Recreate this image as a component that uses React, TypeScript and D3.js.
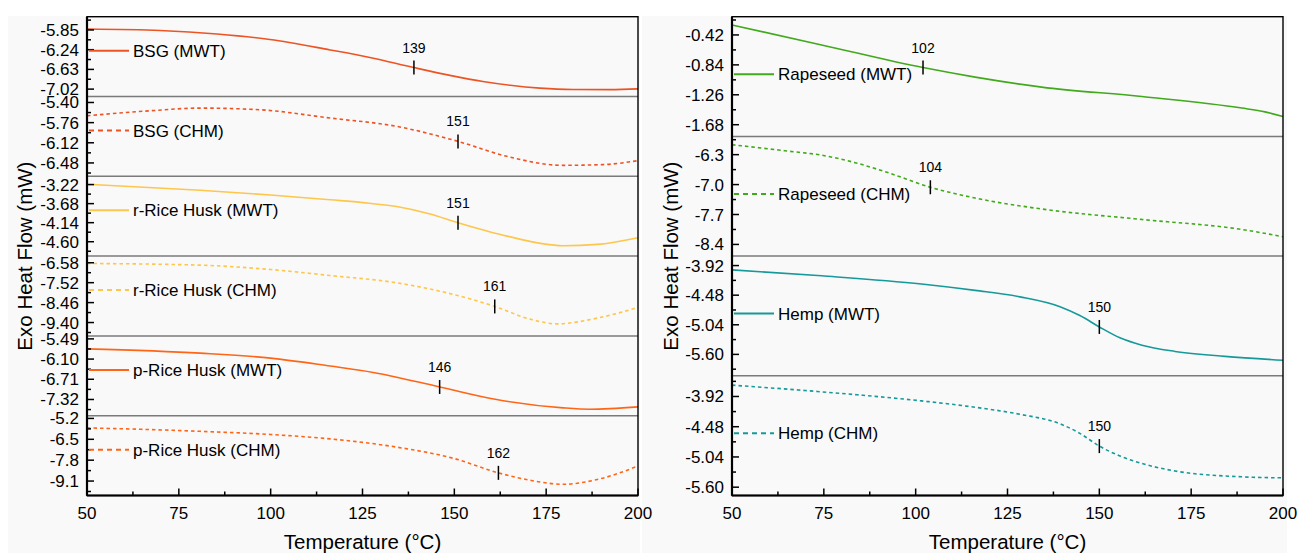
import * as d3 from "d3";

const W = 1299;
const H = 553;
const FONT = "'Liberation Sans', Arial, Helvetica, sans-serif";

// x axis
const tempTicks = [50, 75, 100, 125, 150, 175, 200];
const tempMinor = [62.5, 87.5, 112.5, 137.5, 162.5, 187.5];

// colours
const cBsg = "#ec5424";
const cRice = "#fdc64c";
const cPRice = "#ff6516";
const cRape = "#41a91c";
const cHemp = "#16999a";

// curves, [temperature °C, heat flow mW]
const bsgMwt: [number, number][] = [
  [50, -5.831], [69.9, -5.86], [85.4, -5.929], [99.8, -6.038], [116.2, -6.245],
  [127, -6.393], [139, -6.594], [148.8, -6.748], [157.8, -6.87], [165.2, -6.945],
  [173.3, -7.001], [182.3, -7.028], [192.4, -7.03], [200, -7.015],
];
const bsgChm: [number, number][] = [
  [50, -5.637], [67.2, -5.548], [80.8, -5.5], [97.1, -5.53], [116.2, -5.678],
  [134.4, -5.828], [151, -6.095], [164.3, -6.362], [179.6, -6.523], [190.5, -6.51],
  [200, -6.439],
];
const rRiceMwt: [number, number][] = [
  [50, -3.213], [80.8, -3.357], [100, -3.47], [116.2, -3.588], [125.2, -3.655],
  [134.3, -3.75], [143.4, -3.93], [151, -4.142], [164.3, -4.465], [179.6, -4.696],
  [188.9, -4.665], [200, -4.503],
];
const rRiceChm: [number, number][] = [
  [50, -6.614], [80.8, -6.694], [100, -6.9], [116.2, -7.183], [134.4, -7.53],
  [148, -8.0], [161, -8.64], [170.6, -9.239], [177.9, -9.462], [188.9, -9.191],
  [200, -8.688],
];
const pRiceMwt: [number, number][] = [
  [50, -5.791], [80.8, -5.92], [100, -6.07], [116.2, -6.311], [127.9, -6.503],
  [146, -6.942], [161.5, -7.323], [179.6, -7.573], [186.9, -7.615], [200, -7.543],
];
const pRiceChm: [number, number][] = [
  [50, -5.787], [80.8, -6.002], [100, -6.2], [116.2, -6.475], [134.3, -6.986],
  [150, -7.7], [162, -8.589], [170.6, -9.049], [179.6, -9.302], [188.9, -9.005],
  [200, -8.166],
];
const rapeMwt: [number, number][] = [
  [50, -0.28], [74.4, -0.56], [102, -0.878], [116.2, -1.012], [134.3, -1.152],
  [161.6, -1.284], [188.8, -1.446], [195.1, -1.5], [200, -1.564],
];
const rapeChm: [number, number][] = [
  [50, -6.067], [65.3, -6.218], [74.4, -6.312], [83.5, -6.487], [92.4, -6.72],
  [104, -7.063], [116.2, -7.315], [134.3, -7.571], [161.6, -7.816], [188.8, -8.05],
  [200, -8.22],
];
const hempMwt: [number, number][] = [
  [50, -4.002], [74.4, -4.114], [101.6, -4.269], [116.2, -4.39], [128.4, -4.512],
  [139.3, -4.698], [144.7, -4.866], [150, -5.081], [155.6, -5.287], [161.6, -5.427],
  [170.6, -5.544], [184.2, -5.638], [200, -5.712],
];
const hempChm: [number, number][] = [
  [50, -3.71], [74.4, -3.834], [101.6, -4.002], [116.2, -4.12], [128.4, -4.25],
  [139.3, -4.426], [144.7, -4.603], [150, -4.839], [155.6, -5.021], [161.6, -5.161],
  [170.6, -5.3], [188.8, -5.408], [200, -5.427],
];

// y tick labels per stacked panel
const bsgMwtTicks = ["-5.85", "-6.24", "-6.63", "-7.02"];
const bsgChmTicks = ["-5.40", "-5.76", "-6.12", "-6.48"];
const rRiceMwtTicks = ["-3.22", "-3.68", "-4.14", "-4.60"];
const rRiceChmTicks = ["-6.58", "-7.52", "-8.46", "-9.40"];
const pRiceMwtTicks = ["-5.49", "-6.10", "-6.71", "-7.32"];
const pRiceChmTicks = ["-5.2", "-6.5", "-7.8", "-9.1"];
const rapeMwtTicks = ["-0.42", "-0.84", "-1.26", "-1.68"];
const rapeChmTicks = ["-6.3", "-7.0", "-7.7", "-8.4"];
const hempMwtTicks = ["-3.92", "-4.48", "-5.04", "-5.60"];
const hempChmTicks = ["-3.92", "-4.48", "-5.04", "-5.60"];

type Series = {
  name: string;
  color: string;
  dashed: boolean;
  data: [number, number][];
  ticks: string[];
  range: [number, number];
  onset: number;
};

const leftSeries: Series[] = [
  { name: "BSG (MWT)", color: cBsg, dashed: false, data: bsgMwt, ticks: bsgMwtTicks, range: [-7.166, -5.588], onset: 139 },
  { name: "BSG (CHM)", color: cBsg, dashed: true, data: bsgChm, ticks: bsgChmTicks, range: [-6.719, -5.293], onset: 151 },
  { name: "r-Rice Husk (MWT)", color: cRice, dashed: false, data: rRiceMwt, ticks: rRiceMwtTicks, range: [-4.947, -3.02], onset: 151 },
  { name: "r-Rice Husk (CHM)", color: cRice, dashed: true, data: rRiceChm, ticks: rRiceChmTicks, range: [-10.03, -6.267], onset: 161 },
  { name: "p-Rice Husk (MWT)", color: cPRice, dashed: false, data: pRiceMwt, ticks: pRiceMwtTicks, range: [-7.81, -5.4], onset: 146 },
  { name: "p-Rice Husk (CHM)", color: cPRice, dashed: true, data: pRiceChm, ticks: pRiceChmTicks, range: [-10.0, -5.03], onset: 162 },
];

const rightSeries: Series[] = [
  { name: "Rapeseed (MWT)", color: cRape, dashed: false, data: rapeMwt, ticks: rapeMwtTicks, range: [-1.844, -0.164], onset: 102 },
  { name: "Rapeseed (CHM)", color: cRape, dashed: true, data: rapeChm, ticks: rapeChmTicks, range: [-8.673, -5.873], onset: 104 },
  { name: "Hemp (MWT)", color: cHemp, dashed: false, data: hempMwt, ticks: hempMwtTicks, range: [-6.005, -3.741], onset: 150 },
  { name: "Hemp (CHM)", color: cHemp, dashed: true, data: hempChm, ticks: hempChmTicks, range: [-5.754, -3.537], onset: 150 },
];

const top = 16.7;
const bottom = 495.5;

function valueAt(data: [number, number][], t: number) {
  for (let i = 1; i < data.length; i++) {
    const [t0, v0] = data[i - 1];
    const [t1, v1] = data[i];
    if (t >= t0 && t <= t1) return v0 + ((t - t0) / (t1 - t0)) * (v1 - v0);
  }
  return data[data.length - 1][1];
}

function Panel({ series, x0, x1, legendDy, titleX }: { series: Series[]; x0: number; x1: number; legendDy: number; titleX: number }) {
  const x = d3.scaleLinear().domain([50, 200]).range([x0, x1]);
  const band = d3.scaleBand<number>().domain(d3.range(series.length)).range([top, bottom]).padding(0);
  const bh = band.bandwidth();

  return (
    <g>
      {series.map((s, i) => {
        const pTop = band(i)!;
        const pBot = pTop + bh;
        const y = d3.scaleLinear().domain(s.range).range([pBot, pTop]);
        const line = d3
          .line<[number, number]>()
          .x((d) => x(d[0]))
          .y((d) => y(d[1]))
          .curve(d3.curveMonotoneX);
        const tv = s.ticks.map(Number);
        const step = tv[1] - tv[0];
        const minor: number[] = [];
        for (let k = -1; k < tv.length; k++) {
          const m = tv[0] + step * (k + 0.5);
          const py = y(m);
          if (py > pTop + 2 && py < pBot - 2) minor.push(m);
        }
        const ox = x(s.onset);
        const oy = y(valueAt(s.data, s.onset));
        const ly = pTop + legendDy;
        return (
          <g key={s.name}>
            {i > 0 && <line x1={x0} x2={x1} y1={pTop} y2={pTop} stroke="#7a7a7a" strokeWidth={1.5} />}
            <path
              d={line(s.data) || ""}
              fill="none"
              stroke={s.color}
              strokeWidth={1.6}
              strokeDasharray={s.dashed ? "3.5 3" : undefined}
            />
            {tv.map((v, k) => (
              <g key={k}>
                <line x1={x0} x2={x0 + 7} y1={y(v)} y2={y(v)} stroke="#000" strokeWidth={1.5} />
                <text x={x0 - 8} y={y(v) + 6} textAnchor="end" fontSize={17}>
                  {s.ticks[k]}
                </text>
              </g>
            ))}
            {minor.map((v, k) => (
              <line key={"m" + k} x1={x0} x2={x0 + 4} y1={y(v)} y2={y(v)} stroke="#000" strokeWidth={1.5} />
            ))}
            <line x1={ox} x2={ox} y1={oy - 7} y2={oy + 7} stroke="#000" strokeWidth={1.5} />
            <text x={ox} y={oy - 15} textAnchor="middle" fontSize={14}>
              {s.onset}
            </text>
            <line
              x1={x0 + 2}
              x2={x0 + 42}
              y1={ly}
              y2={ly}
              stroke={s.color}
              strokeWidth={2}
              strokeDasharray={s.dashed ? "5 4" : undefined}
            />
            <text x={x0 + 46} y={ly + 6} fontSize={17}>
              {s.name}
            </text>
          </g>
        );
      })}
      <rect x={x0} y={top} width={x1 - x0} height={bottom - top} fill="none" stroke="#000" strokeWidth={1.4} />
      <line x1={x0} x2={x0} y1={top} y2={bottom} stroke="#000" strokeWidth={2.2} />
      <line x1={x0} x2={x1} y1={bottom} y2={bottom} stroke="#000" strokeWidth={2.2} />
      {tempTicks.map((t) => (
        <g key={t}>
          <line x1={x(t)} x2={x(t)} y1={bottom} y2={bottom - 7} stroke="#000" strokeWidth={1.5} />
          <text x={x(t)} y={519} textAnchor="middle" fontSize={17}>
            {t}
          </text>
        </g>
      ))}
      {tempMinor.map((t) => (
        <line key={t} x1={x(t)} x2={x(t)} y1={bottom} y2={bottom - 4} stroke="#000" strokeWidth={1.5} />
      ))}
      <text x={(x0 + x1) / 2} y={549} textAnchor="middle" fontSize={20.5}>
        Temperature (°C)
      </text>
      <text
        transform={`translate(${titleX},${(top + bottom) / 2}) rotate(-90)`}
        textAnchor="middle"
        dominantBaseline="central"
        fontSize={20.5}
      >
        Exo Heat Flow (mW)
      </text>
    </g>
  );
}

export default function App() {
  return (
    <svg
      width={W}
      height={H}
      style={{ position: "fixed", left: 0, top: 0, display: "block" }}
      fontFamily={FONT}
    >
      <rect width={W} height={H} fill="#fff" />
      <rect x={8} y={16} width={632} height={H - 16} fill="#f9f9f9" />
      <rect x={642} y={16} width={645} height={H - 16} fill="#f9f9f9" />
      <Panel series={leftSeries} x0={87} x1={638} legendDy={34} titleX={24} />
      <Panel series={rightSeries} x0={732} x1={1283} legendDy={57.5} titleX={670} />
    </svg>
  );
}
